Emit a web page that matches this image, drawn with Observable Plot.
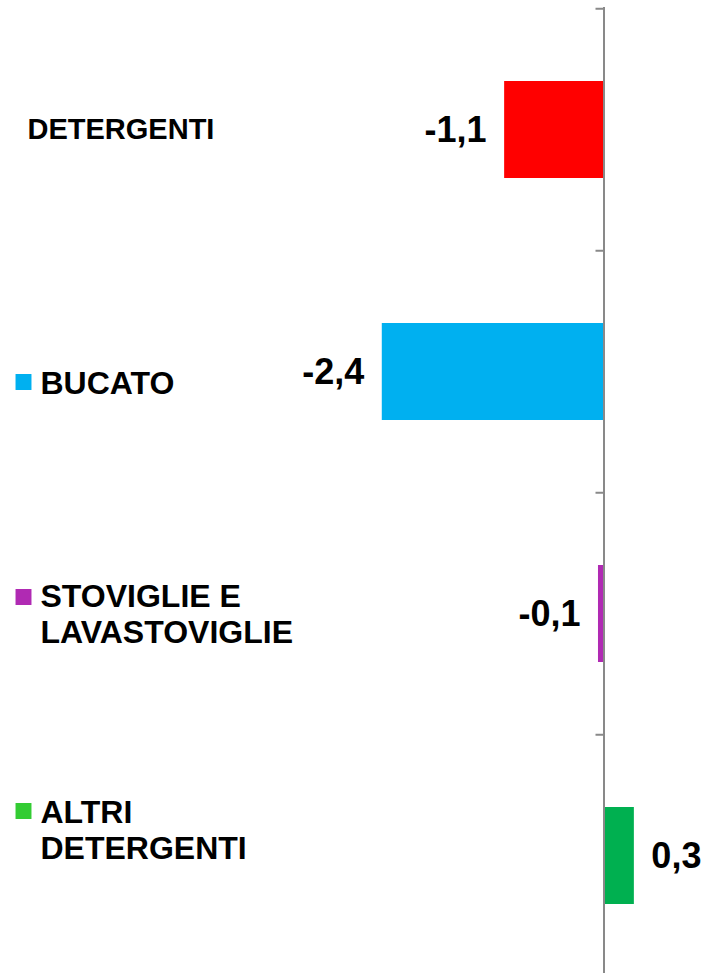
<!DOCTYPE html>
<html>
<head>
<meta charset="utf-8">
<script src="https://cdn.jsdelivr.net/npm/d3@7"></script>
<script src="https://cdn.jsdelivr.net/npm/@observablehq/plot@0.6"></script>
<style>
  html, body { margin: 0; padding: 0; background: #fff; }
  #chart svg { display: block; font-family: "Liberation Sans", Arial, sans-serif; }
</style>
</head>
<body>
<div id="chart"></div>
<script>
// ---- data ----
const ids = ["det", "buc", "sto", "alt"];
const categoryLabels = ["DETERGENTI", "BUCATO", "STOVIGLIE E\nLAVASTOVIGLIE", "ALTRI\nDETERGENTI"];
const values = [-1.08, -2.41, -0.06, 0.33];
const barColors = ["#FF0000", "#00B0F0", "#B02AB3", "#00B050"];
const legendColors = [null, "#00B0F0", "#B02AB3", "#33CC33"];

const data = ids.map((id, i) => ({
  id, label: categoryLabels[i], value: values[i],
  text: values[i].toFixed(1).replace(".", ","),
  color: barColors[i], legend: legendColors[i]
}));

// ---- layout ----
const W = 705, H = 973;
const zeroX = 603.5, pxPerUnit = 92;
const yTop = 7, yBottom = 977;
const step = (yBottom - yTop) / ids.length;
const axisColor = "#898989";

const labelDy = {det: -1, buc: 10, sto: -1, alt: -27};
const labelDx = {det: 27, buc: 40, sto: 40, alt: 40};
const labelSize = {det: 29, buc: 32, sto: 32, alt: 32};
const squareDy = {buc: 10, sto: -17, alt: -45};

const marks = [
  Plot.barX(data, {x: "value", y: "id", fill: "color"}),
  Plot.ruleX([0], {stroke: axisColor, strokeWidth: 2}),
  Plot.ruleY(ids, {y: d => d, x1: -8 / pxPerUnit, x2: 0, dy: -step / 2, stroke: axisColor, strokeWidth: 2}),
  Plot.text(data.filter(d => d.value < 0), {
    x: "value", y: "id", text: "text", textAnchor: "end", dx: -18,
    fontSize: 36, fontWeight: "bold", fill: "#000"
  }),
  Plot.text(data.filter(d => d.value >= 0), {
    x: "value", y: "id", text: "text", textAnchor: "start", dx: 17,
    fontSize: 36, fontWeight: "bold", fill: "#000"
  })
];

for (const d of data) {
  marks.push(Plot.text([d], {
    y: "id", text: "label", frameAnchor: "left", textAnchor: "start",
    dx: labelDx[d.id], dy: labelDy[d.id], lineHeight: 1.125,
    fontSize: labelSize[d.id], fontWeight: "bold", fill: "#000"
  }));
  if (d.legend) {
    marks.push(Plot.dot([d], {
      y: "id", frameAnchor: "left", dx: 23, dy: squareDy[d.id],
      symbol: "square", r: 9, fill: d.legend, stroke: "none"
    }));
  }
}

const chart = Plot.plot({
  width: W,
  height: H,
  marginTop: yTop,
  marginBottom: 0,
  marginLeft: 0,
  marginRight: 0,
  style: {background: "#fff", fontFamily: "Liberation Sans, Arial, sans-serif"},
  x: {domain: [-zeroX / pxPerUnit, (W - zeroX) / pxPerUnit], range: [0, W], axis: null},
  y: {type: "band", domain: ids, range: [yTop, yBottom], paddingInner: 0.6, paddingOuter: 0.3, axis: null},
  marks
});
document.getElementById("chart").append(chart);
</script>
</body>
</html>
